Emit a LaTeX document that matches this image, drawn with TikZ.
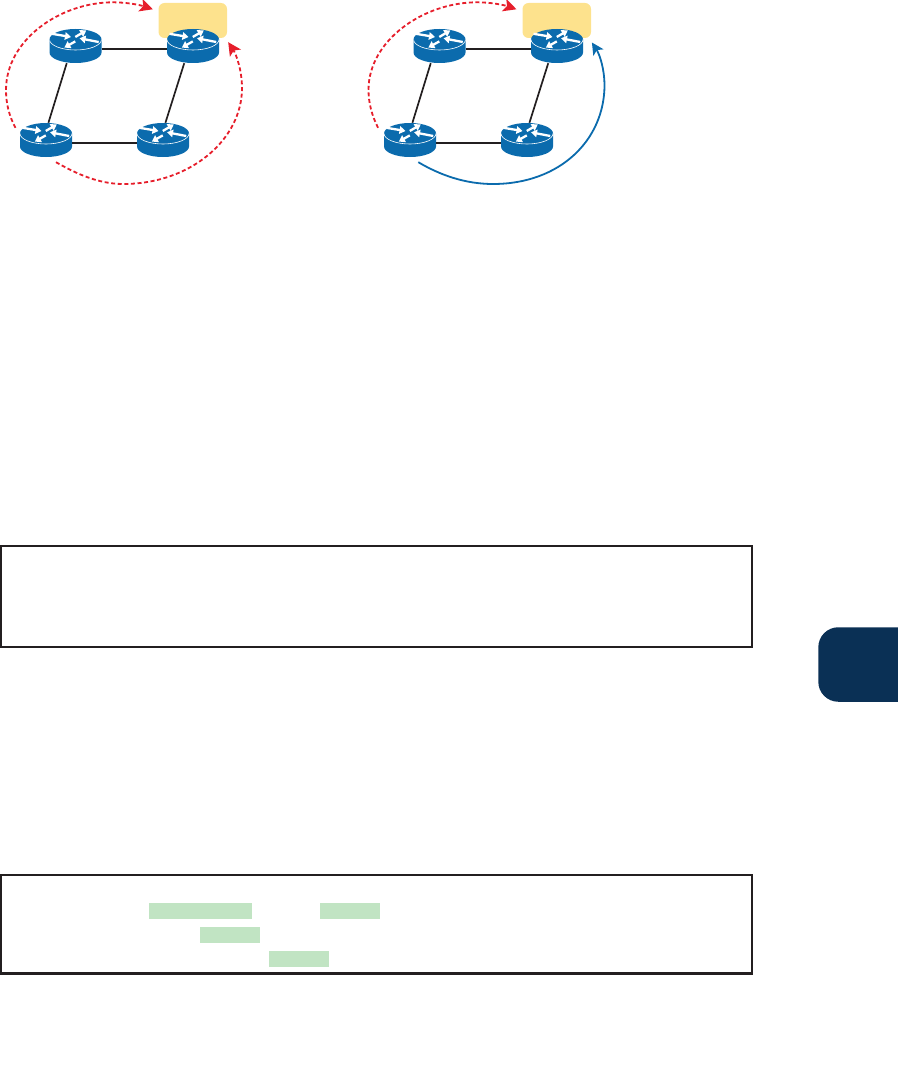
\documentclass[tikz,border=0pt]{standalone}
\usepackage{xcolor}
\usetikzlibrary{arrows.meta}
\definecolor{routerblue}{RGB}{11,107,173}
\definecolor{alertred}{RGB}{230,30,43}
\definecolor{softyellow}{RGB}{253,226,141}
\definecolor{softgreen}{RGB}{193,228,195}
\definecolor{tabnavy}{RGB}{10,48,85}
\definecolor{inkblack}{RGB}{35,31,32}

\tikzset{
  routerbody/.pic={
    \begin{scope}[x=1pt,y=-1pt]
    \fill[routerblue] (-26,-6.5) -- (-26,6.5) arc[start angle=180,end angle=360,x radius=26,y radius=-10.5]
      -- (26,-6.5) -- cycle;
    \fill[routerblue] (0,-6.5) ellipse[x radius=26,y radius=10.5];
    \draw[white,line width=0.6pt] (-26,-6.5) arc[start angle=180,end angle=360,x radius=26,y radius=-10.5];
    \foreach \xa/\ya/\xb/\yb in {-23.5/-12.2/-4.5/-9,-0.2/-9/10.8/-15.6,23.2/-4/4/-7.7,-0.2/-4.6/-11.2/1.6}
      \draw[white,line width=2.3pt,-{Triangle[length=6pt,width=7.5pt]}] (\xa,\ya) -- (\xb,\yb);
    \end{scope}
  }
}

\begin{document}
\begin{tikzpicture}[
  x=1pt,y=-1pt,
  router/.style={minimum width=52pt,minimum height=34pt,inner sep=0pt,
    path picture={\pic at (path picture bounding box.center) {routerbody};}},
  rootbox/.style={fill=softyellow,rounded corners=6pt,minimum width=68.5pt,minimum height=35pt,inner sep=0pt},
  boxframe/.style={draw=inkblack,line width=2.1pt,minimum width=751pt,inner sep=0pt},
  hilite/.style={fill=softgreen,minimum height=16pt,inner sep=0pt},
  link/.style={draw=inkblack,line width=1.7pt},
  badpath/.style={draw=alertred,line width=1.8pt,dash pattern=on 4pt off 2.6pt,-{Stealth[length=13pt,width=13pt,inset=3pt]}},
  goodpath/.style={draw=routerblue,line width=1.8pt,-{Stealth[length=12pt,width=12pt,inset=3pt]}}
]
\useasboundingbox (0,0) rectangle (897,1081);

% left panel
\node[rootbox] (rootA) at (192.75,20.5) {};
\node[router] (a1) at (75.5,46) {};
\node[router] (a2) at (193,46) {};
\node[router] (a3) at (46,140) {};
\node[router] (a4) at (163,140) {};
\draw[link] (a1.-6)--(a2.186);
\draw[link] (a3.-6)--(a4.186);
\draw[link] (a1.243)--(a3.82);
\draw[link] (a2.243)--(a4.82);
\draw[badpath] ([shift={(-4.3,5)}]a3.north west) .. controls (9,116) and (6,103) .. (6,90)
  .. controls (6,40) and (60,2.3) .. (113,2.3) .. controls (127,2.3) and (140,5) .. ([shift={(-5.5,6.5)}]rootA.north west);
\draw[badpath] ([shift={(10,5)}]a3.south) .. controls (75,173) and (98,184) .. (123,184)
  .. controls (190,184) and (242,140) .. (242,88) .. controls (242,70) and (236,54) .. ([shift={(1,4)}]rootA.south east);

% right panel
\node[rootbox] (rootB) at (556.75,20.5) {};
\node[router] (b1) at (439.5,46) {};
\node[router] (b2) at (557,46) {};
\node[router] (b3) at (410,140) {};
\node[router] (b4) at (527,140) {};
\draw[link] (b1.-6)--(b2.186);
\draw[link] (b3.-6)--(b4.186);
\draw[link] (b1.243)--(b3.82);
\draw[link] (b2.243)--(b4.82);
\draw[badpath] ([shift={(-5.7,5)}]b3.north west) .. controls (372,116) and (368.5,103) .. (368.5,90)
  .. controls (368.5,40) and (424,2.3) .. (477,2.3) .. controls (491,2.3) and (504,5) .. ([shift={(-5.8,6.5)}]rootB.north west);
\draw[goodpath] ([shift={(8.3,5)}]b3.south) .. controls (440,175) and (465,184) .. (493,184)
  .. controls (560,184) and (604.5,140) .. (604.5,85) .. controls (604.5,70) and (600,55) .. ([shift={(0.7,4.3)}]rootB.south east);

% frames with marks
\node[boxframe,minimum height=101pt] (frameA) at (376.5,596.5) {};
\node[boxframe,minimum height=98.5pt] (frameB) at (376.5,924.25) {};
\node[hilite,minimum width=103pt] (hiliteA) at (200.5,911) {};
\node[hilite,minimum width=60pt] (hiliteB) at (350,911) {};
\node[hilite,minimum width=60pt] (hiliteC) at (230,935) {};
\node[hilite,minimum width=60pt] (hiliteD) at (299,959) {};

% side tab
\node[fill=tabnavy,rounded corners=20pt,minimum width=100pt,minimum height=74.5pt,inner sep=0pt] (tab) at (868.3,664.5) {};
\end{tikzpicture}
\end{document}
